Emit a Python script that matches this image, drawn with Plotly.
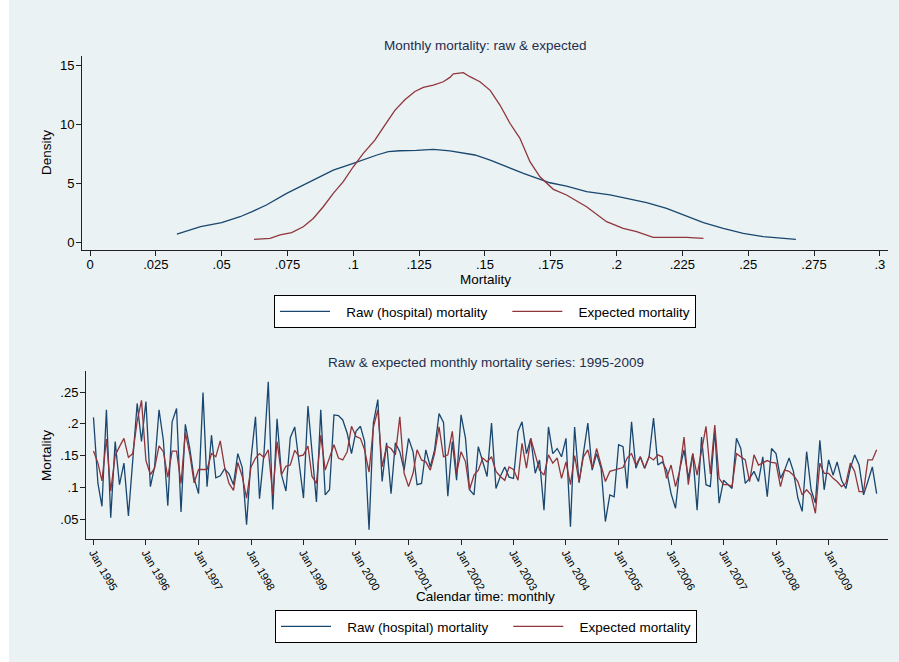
import pandas as pd
import plotly.graph_objects as go

# ---------------- data ----------------
# Kernel density curves
raw_dens_x = [.033, .042, .050, .057, .062, .067, .0747, .0798, .086, .0924, .100, .105, .109, .1133,
              .1177, .124, .1304, .1367, .142, .1462, .152, .158, .1646, .171, .1747, .181, .1886,
              .1975, .2038, .2114, .219, .2253, .233, .2405, .2481, .2557, .262, .2681]
raw_dens_y = [.68, 1.3, 1.64, 2.15, 2.63, 3.15, 4.14, 4.7, 5.41, 6.12, 6.69, 7.12, 7.4, 7.68,
              7.76, 7.8, 7.88, 7.75, 7.55, 7.4, 6.97, 6.4, 5.84, 5.33, 5.04, 4.76, 4.28,
              4.0, 3.71, 3.34, 2.86, 2.3, 1.64, 1.16, .74, .45, .31, .23]
exp_dens_x = [.0623, .0684, .0722, .0766, .081, .0848, .0886, .0924, .0962, .100, .1038, .1082,
              .112, .1158, .1196, .1234, .1266, .1304, .1342, .1367, .138, .1418, .1443, .1481,
              .152, .1557, .1595, .1633, .1671, .1709, .176, .181, .1886, .1962, .2025, .2076,
              .2139, .219, .2266, .233]
exp_dens_y = [.23, .31, .6, .8, 1.3, 2.0, 3.0, 4.14, 5.13, 6.4, 7.54, 8.67, 9.95, 11.2, 12.1,
              12.8, 13.15, 13.35, 13.63, 14.0, 14.3, 14.4, 14.06, 13.63, 12.9, 11.65, 10.1,
              8.82, 6.83, 5.55, 4.48, 4.0, 3.0, 1.73, 1.16, .88, .4, .38, .4, .31]

# Monthly series Jan 1995 - Dec 2009
months = pd.date_range("1995-01-01", periods=180, freq="MS")
raw_mort = [
    .210, .106, .070, .222, .052, .172, .104, .138, .055, .150, .232, .172,
    .235, .101, .132, .222, .174, .071, .203, .224, .061, .199, .161, .114,
    .090, .249, .101, .182, .115, .118, .129, .121, .104, .153, .131, .041,
    .145, .211, .082, .153, .266, .065, .208, .120, .094, .178, .195, .139,
    .083, .228, .153, .077, .222, .088, .096, .214, .213, .206, .185, .153,
    .188, .196, .172, .033, .201, .238, .109, .170, .090, .170, .156, .127,
    .177, .156, .104, .106, .159, .132, .159, .216, .202, .086, .172, .111,
    .214, .177, .096, .088, .164, .140, .117, .201, .098, .117, .132, .116,
    .114, .188, .203, .153, .177, .122, .143, .064, .195, .153, .161, .148,
    .177, .038, .195, .107, .153, .201, .127, .153, .130, .046, .088, .085,
    .167, .164, .098, .203, .130, .148, .130, .148, .209, .135, .140, .127,
    .090, .067, .127, .159, .114, .153, .064, .179, .104, .101, .190, .075,
    .111, .104, .098, .177, .161, .106, .114, .125, .109, .148, .085, .161,
    .153, .114, .127, .146, .125, .083, .062, .156, .096, .075, .174, .096,
    .143, .119, .140, .111, .098, .130, .151, .135, .088, .109, .132, .090,
]
exp_mort = [
    .157, .138, .110, .176, .094, .150, .164, .177, .147, .153, .204, .237,
    .142, .120, .130, .165, .156, .116, .157, .157, .106, .186, .152, .107,
    .128, .128, .128, .153, .148, .173, .132, .106, .095, .139, .117, .083,
    .132, .146, .153, .147, .159, .088, .172, .120, .133, .135, .158, .149,
    .151, .165, .117, .106, .182, .127, .146, .167, .146, .143, .156, .196,
    .180, .177, .159, .124, .194, .222, .132, .165, .161, .151, .211, .122,
    .101, .122, .159, .143, .140, .127, .153, .195, .148, .151, .188, .122,
    .156, .140, .096, .119, .127, .146, .140, .148, .125, .117, .111, .132,
    .128, .111, .169, .130, .177, .153, .127, .119, .151, .138, .146, .114,
    .140, .104, .150, .109, .148, .159, .130, .161, .135, .109, .125, .127,
    .130, .131, .146, .153, .135, .148, .130, .148, .143, .151, .148, .114,
    .135, .101, .125, .179, .104, .153, .119, .156, .196, .121, .198, .114,
    .104, .104, .101, .153, .148, .143, .109, .151, .135, .138, .142, .139,
    .138, .101, .127, .125, .119, .109, .088, .096, .088, .059, .138, .122,
    .122, .114, .109, .101, .106, .138, .125, .093, .093, .143, .143, .159,
]

series_names = ["Raw (hospital) mortality", "Expected mortality"]
top_xticks = [0, .025, .05, .075, .1, .125, .15, .175, .2, .225, .25, .275, .3]
top_xlabels = ["0", ".025", ".05", ".075", ".1", ".125", ".15", ".175", ".2", ".225", ".25", ".275", ".3"]
top_yticks = [0, 5, 10, 15]
bot_yticks = [.05, .1, .15, .2, .25]
bot_ylabels = [".05", ".1", ".15", ".2", ".25"]
year_ticks = pd.date_range("1995-01-01", periods=15, freq="12MS")
year_labels = ["Jan %d" % d.year for d in year_ticks]

# ---------------- style ----------------
W, H = 899, 662
NAVY = "#1A476F"
MAROON = "#90353B"
BG = "#EAF2F3"
TITLE_C = "#1f2d4f"
FONT = "Liberation Sans, Arial, Helvetica, sans-serif"
NB = "\u00a0"

def px(x):
    return x / W

def py(y):
    return 1 - y / H

# legend labels padded with non-breaking spaces to reproduce the key spacing
leg_raw = NB * 3 + series_names[0] + NB * 4
leg_exp = NB * 3 + series_names[1]

fig = go.Figure()
fig.add_trace(go.Scatter(x=raw_dens_x, y=raw_dens_y, mode="lines", name=leg_raw,
                         line=dict(color=NAVY, width=1.3), xaxis="x", yaxis="y", legend="legend"))
fig.add_trace(go.Scatter(x=exp_dens_x, y=exp_dens_y, mode="lines", name=leg_exp,
                         line=dict(color=MAROON, width=1.3), xaxis="x", yaxis="y", legend="legend"))
fig.add_trace(go.Scatter(x=months, y=raw_mort, mode="lines", name=leg_raw,
                         line=dict(color=NAVY, width=1.3), xaxis="x2", yaxis="y2", legend="legend2"))
fig.add_trace(go.Scatter(x=months, y=exp_mort, mode="lines", name=leg_exp,
                         line=dict(color=MAROON, width=1.3), xaxis="x2", yaxis="y2", legend="legend2"))

axis_common = dict(showline=True, linecolor="#222222", linewidth=1, ticks="outside", ticklen=5,
                   tickcolor="#222222", zeroline=False, mirror=False)
tf13 = dict(size=13, color="black", family=FONT)

legend_common = dict(orientation="h", bgcolor="white", bordercolor="black", borderwidth=1,
                     font=dict(size=13.5, color="black", family=FONT), xanchor="center",
                     yanchor="top", itemwidth=50, traceorder="normal")

fig.update_layout(
    width=W, height=H, margin=dict(l=0, r=0, t=0, b=0),
    paper_bgcolor="white", plot_bgcolor="white",
    font=dict(family=FONT, color="black"),
    xaxis=dict(domain=[px(82), px(888)], range=[-0.00304, 0.3031], tickvals=top_xticks,
               ticktext=top_xlabels, showgrid=False, anchor="y", tickfont=tf13,
               ticklabelstandoff=-3, **axis_common),
    yaxis=dict(domain=[py(250), py(56)], range=[-0.68, 15.82], tickvals=top_yticks,
               showgrid=True, gridcolor=BG, gridwidth=1, anchor="x", tickfont=tf13,
               ticklabelstandoff=-1, **axis_common),
    xaxis2=dict(domain=[px(86), px(888)], type="date", range=["1994-11-10", "2010-02-18"],
                tickvals=list(year_ticks), ticktext=year_labels, tickangle=60, showgrid=False,
                anchor="y2", tickfont=dict(size=11, color="black", family=FONT),
                ticklabelstandoff=-3, **axis_common),
    yaxis2=dict(domain=[py(539), py(371)], range=[0.0185, 0.2831], tickvals=bot_yticks,
                ticktext=bot_ylabels, showgrid=True, gridcolor=BG, gridwidth=1, anchor="x2",
                tickfont=tf13, ticklabelstandoff=-1, **axis_common),
    legend=dict(x=px(485), y=py(295), **legend_common),
    legend2=dict(x=px(486), y=py(610), **legend_common),
    shapes=[dict(type="rect", xref="paper", yref="paper", x0=px(9), x1=1, y0=0, y1=1,
                 fillcolor=BG, line=dict(width=0), layer="below")],
)

def note(text, x, y, size=13.5, color="black", angle=0):
    fig.add_annotation(text=text, x=px(x), y=py(y), xref="paper", yref="paper", showarrow=False,
                       xanchor="center", yanchor="middle", textangle=angle,
                       font=dict(size=size, color=color, family=FONT))

note("Monthly mortality: raw &amp; expected", 485, 45, color=TITLE_C)
note("Mortality", 485, 279)
note("Density", 46, 153, angle=-90)
note("Raw &amp; expected monthly mortality series: 1995-2009", 486, 362, color=TITLE_C)
note("Calendar time: monthly", 485, 596)
note("Mortality", 46, 456, angle=-90)

fig.write_html("out.html", config={"displayModeBar": False},
               post_script=("document.body.style.margin='0';"
                            "document.body.style.overflow='hidden';"
                            "document.documentElement.style.overflow='hidden';"))
